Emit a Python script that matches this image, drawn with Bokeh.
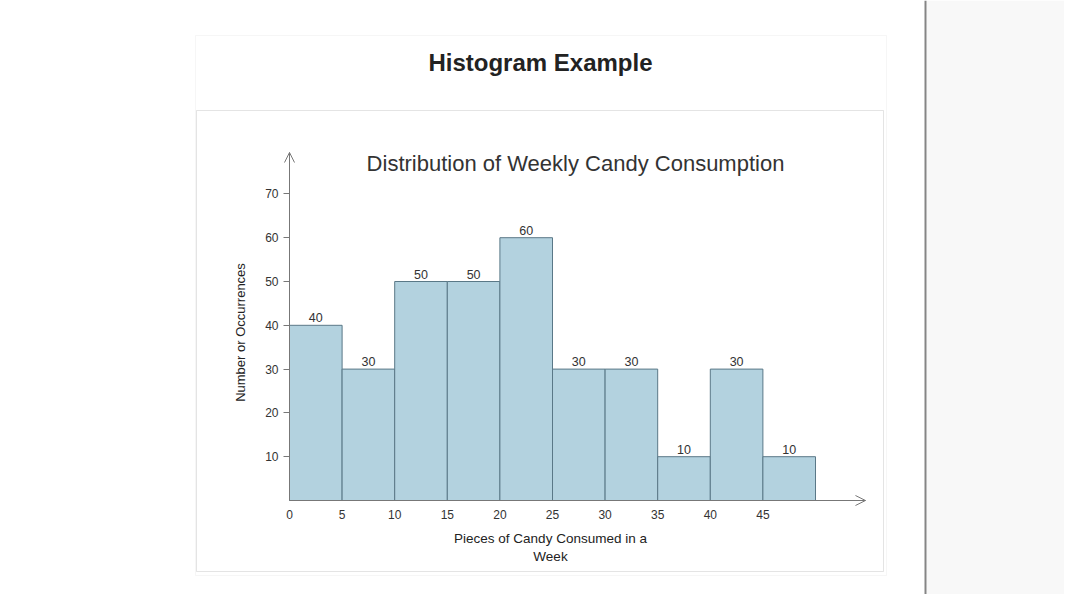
from bokeh.plotting import figure
from bokeh.models import (ColumnDataSource, FixedTicker, Label, BoxAnnotation, Arrow, OpenHead, Range1d)
from bokeh.core.properties import value
from bokeh.embed import file_html
from bokeh.resources import INLINE

# ---- data ----
bin_edges = [0, 5, 10, 15, 20, 25, 30, 35, 40, 45, 50]
counts = [40, 30, 50, 50, 60, 30, 30, 10, 30, 10]
x_ticks = [0, 5, 10, 15, 20, 25, 30, 35, 40, 45]
y_ticks = [10, 20, 30, 40, 50, 60, 70]
x_axis_end = 54.75
y_axis_end = 79.45
page_title = "Histogram Example"
chart_title = "Distribution of Weekly Candy Consumption"
x_title_lines = ["Pieces of Candy Consumed in a", "Week"]
y_title = "Number or Occurrences"

FONT = "Liberation Sans"
W, H = 1064, 594
X0, Y0 = 289, 500          # pixel position of the data origin
PX_X, PX_Y = 10.52, 4.38   # pixels per data unit

src = ColumnDataSource(dict(
    left=bin_edges[:-1],
    right=bin_edges[1:],
    top=counts,
    mid=[(a + b) / 2 for a, b in zip(bin_edges[:-1], bin_edges[1:])],
    lab=[str(c) for c in counts],
))

p = figure(width=W, height=H, output_backend="svg", toolbar_location=None,
           x_range=Range1d(-X0 / PX_X, (W - X0) / PX_X),
           y_range=Range1d(-(H - Y0) / PX_Y, Y0 / PX_Y),
           min_border=0, min_border_left=0, min_border_right=0,
           min_border_top=0, min_border_bottom=0)
p.title = None
p.outline_line_color = None
p.background_fill_color = "white"
p.border_fill_color = "white"
p.xgrid.visible = False
p.ygrid.visible = False


def box(l, r, t, b, **kw):
    p.add_layout(BoxAnnotation(left=l, right=r, top=t, bottom=b,
                               left_units="canvas", right_units="canvas",
                               top_units="canvas", bottom_units="canvas", **kw))


# background region right of the page divider and the divider itself
box(926, W, 0, H, fill_color="#f8f8f8", fill_alpha=1, line_color=None, level="underlay")
box(924, 926, 0, H, fill_color="#858585", fill_alpha=1, line_color=None, level="underlay")
# outer panel and inner chart box
box(195, 886, 35, 575, fill_alpha=0, line_color="#e2e2e2", line_width=1, level="underlay")
box(196, 883, 110, 571, fill_alpha=0, line_color="#a4a4a4", line_width=1, level="underlay")

# bars
p.quad(left="left", right="right", top="top", bottom=0, source=src,
       fill_color="#b3d2df", line_color="#5a7887", line_width=1)
p.text(x="mid", y="top", text="lab", source=src, text_align="center",
       text_baseline="bottom", y_offset=-3, text_font=value(FONT),
       text_font_size="12.5px", text_color="#333333")

# axes (drawn at the data origin, taking no panel space)
for ax in (p.xaxis[0], p.yaxis[0]):
    ax.fixed_location = 0
    ax.axis_line_color = "#777777"
    ax.major_tick_line_color = "#777777"
    ax.minor_tick_line_color = None
    ax.major_label_text_font = FONT
    ax.major_label_text_font_size = "12px"
    ax.major_label_text_color = "#333333"
p.xaxis.bounds = (0, x_axis_end)
p.yaxis.bounds = (0, y_axis_end)
p.yaxis.ticker = FixedTicker(ticks=y_ticks)
p.yaxis.major_tick_out = 6
p.yaxis.major_tick_in = 0
p.yaxis.major_label_standoff = 5
p.xaxis.ticker = FixedTicker(ticks=x_ticks)
p.xaxis.major_tick_out = 0
p.xaxis.major_tick_in = 0
p.xaxis.major_label_standoff = 9

# axis arrowheads
p.add_layout(Arrow(end=OpenHead(size=10, line_color="#777777", line_width=1),
                   x_start=50, y_start=0, x_end=x_axis_end, y_end=0, line_alpha=0))
p.add_layout(Arrow(end=OpenHead(size=10, line_color="#777777", line_width=1),
                   x_start=0, y_start=72, x_end=0, y_end=y_axis_end, line_alpha=0))


# texts
def lab(x, y, t, size, style="normal", color="#333333", angle=0):
    p.add_layout(Label(x=x, y=y, x_units="canvas", y_units="canvas", text=t,
                       text_align="center", text_baseline="middle", angle=angle,
                       text_font=FONT, text_font_size=size, text_font_style=style,
                       text_color=color))


lab(540, 62, page_title, "24px", "bold", "#222222")
lab(575, 163, chart_title, "22px", "normal", "#333333")
lab(240, 332, y_title, "13px", "normal", "#222222", angle=1.5707963)
lab(550, 538, x_title_lines[0], "13.5px", "normal", "#222222")
lab(550, 556, x_title_lines[1], "13.5px", "normal", "#222222")

open("out.html", "w").write(file_html(p, INLINE))
